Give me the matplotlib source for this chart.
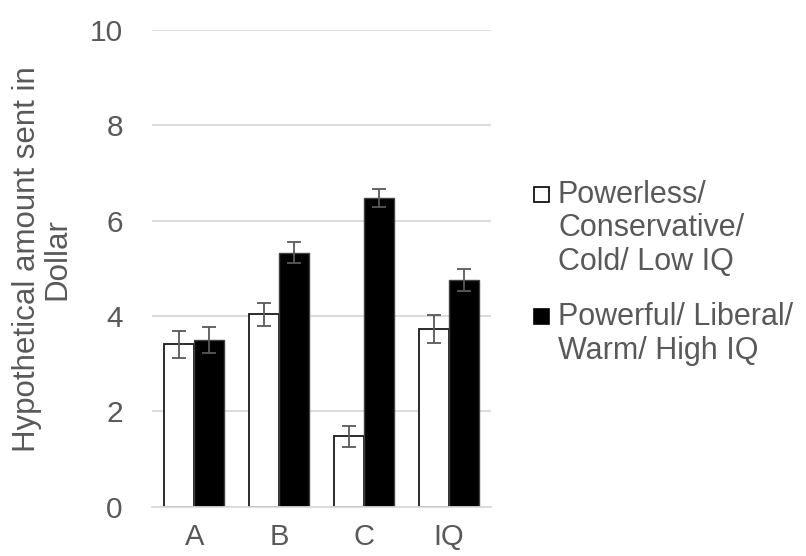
import numpy as np
import matplotlib
matplotlib.use('Agg')
import matplotlib.pyplot as plt
from matplotlib.patches import Rectangle

plt.rcParams['font.family'] = ['Liberation Sans', 'DejaVu Sans']

categories = ['A', 'B', 'C', 'IQ']
powerless = [3.40, 4.03, 1.47, 3.73]
powerless_err = [0.28, 0.25, 0.22, 0.29]
powerful = [3.50, 5.33, 6.47, 4.75]
powerful_err = [0.27, 0.23, 0.19, 0.23]
legend_labels = [['Powerless/', 'Conservative/', 'Cold/ Low IQ'],
                 ['Powerful/ Liberal/', 'Warm/ High IQ']]

TEXT = '#595959'
GRID = '#D9D9D9'

fig = plt.figure(figsize=(8.06, 5.56), dpi=100)
ax = fig.add_axes([152/806, 1 - 506.5/556, 339/806, 476.5/556])

x = np.arange(len(categories))
w = 0.354
ax.bar(x - w/2, powerless, w, color='white', edgecolor='#1a1a1a', linewidth=1.3, zorder=2)
ax.bar(x + w/2, powerful, w, color='black', edgecolor='#404040', linewidth=1.0, zorder=2)
ax.errorbar(x - w/2, powerless, yerr=powerless_err, fmt='none', ecolor='#595959',
            elinewidth=1.3, capsize=5, capthick=1.3, zorder=3)
ax.errorbar(x + w/2, powerful, yerr=powerful_err, fmt='none', ecolor='#595959',
            elinewidth=1.3, capsize=5, capthick=1.3, zorder=3)

ax.set_xlim(-0.5, len(categories) - 0.5)
ax.set_ylim(0, 10)
ax.set_yticks(range(0, 11, 2))
ax.set_xticks(x)
ax.set_xticklabels(categories)
ax.yaxis.grid(True, color=GRID, linewidth=1.3, zorder=0)
ax.set_axisbelow(True)
for s in ['top', 'right', 'left']:
    ax.spines[s].set_visible(False)
ax.spines['bottom'].set_color(GRID)
ax.spines['bottom'].set_linewidth(1.3)
ax.tick_params(axis='y', length=0, pad=21, labelsize=21.5, labelcolor=TEXT)
ax.tick_params(axis='x', length=0, pad=12, labelsize=21, labelcolor=TEXT)

ax.set_ylabel('Hypothetical amount sent in\nDollar', fontsize=22.5, color=TEXT,
              linespacing=1.0)
ax.yaxis.set_label_coords(-0.236, 0.519)

# legend drawn by hand (Excel style: marker next to first line)
first_baseline = [203, 325]
line_step = 33.5
fills = ['white', 'black']
for lines, yb, fc in zip(legend_labels, first_baseline, fills):
    for k, txt in enumerate(lines):
        fig.text(558/806, 1 - (yb + k * line_step)/556, txt, fontsize=22,
                 color=TEXT, va='baseline', ha='left')
    fig.add_artist(Rectangle((534/806, 1 - (yb - 1)/556), 15/806, 15/556,
                             transform=fig.transFigure, facecolor=fc,
                             edgecolor='black', linewidth=1.2))

fig.savefig('out.png', dpi=100)
